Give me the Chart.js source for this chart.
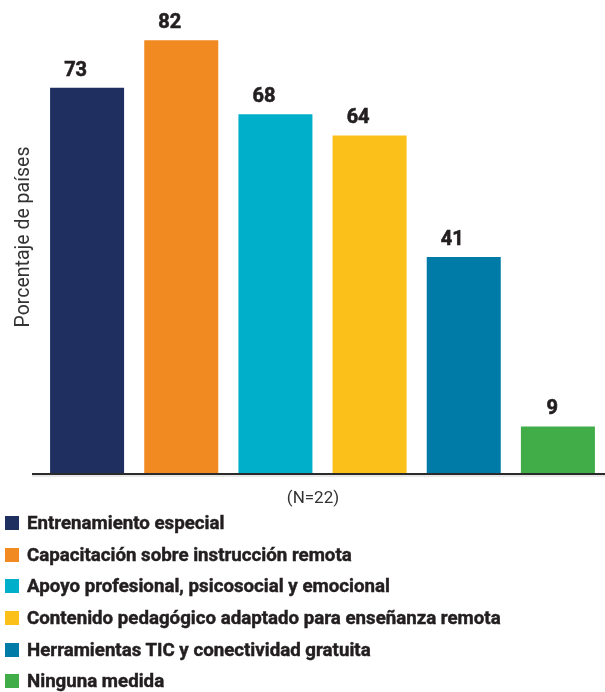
<!DOCTYPE html>
<html lang="es">
<head>
<meta charset="utf-8">
<script src="https://cdn.jsdelivr.net/npm/chart.js@4.4.1/dist/chart.umd.min.js"></script>
<style>
  html, body { margin: 0; padding: 0; background: #fff; }
  #wrap { position: relative; width: 605px; height: 692px; }
  #chart { position: absolute; left: 0; top: 0; }
  #legend { position: absolute; left: 5px; top: 507px; font-family: Roboto, sans-serif; font-weight: bold; font-size: 18.7px; color: #231f20; -webkit-text-stroke: 0.45px #231f20; }
  .row { display: flex; align-items: center; height: 31.7px; white-space: nowrap; }
  .sw { width: 14px; height: 14px; margin-right: 8px; flex: none; -webkit-text-stroke: 0; }
</style>
</head>
<body>
<div id="wrap">
  <canvas id="chart" width="605" height="510"></canvas>
  <div id="legend"></div>
</div>
<script>
// Medidas adoptadas por los países (% de países, N=22)
const categories = [
  "Entrenamiento especial",
  "Capacitación sobre instrucción remota",
  "Apoyo profesional, psicosocial y emocional",
  "Contenido pedagógico adaptado para enseñanza remota",
  "Herramientas TIC y conectividad gratuita",
  "Ninguna medida"
];
const values = [73, 82, 68, 64, 41, 9];
const colors = ["#1f3060", "#f08a21", "#00b0ca", "#fbc01a", "#007ba7", "#41ad49"];
const yTitle = "Porcentaje de países";
const xTitle = "(N=22)";

const textColor = "#231f20";

// Etiquetas con el valor encima de cada barra
const valueLabels = {
  id: "valueLabels",
  afterDatasetsDraw(chart) {
    const ctx = chart.ctx;
    const meta = chart.getDatasetMeta(0);
    ctx.save();
    ctx.font = "bold 20px Roboto, sans-serif";
    ctx.fillStyle = textColor;
    ctx.strokeStyle = textColor;
    ctx.lineWidth = 0.6;
    ctx.textAlign = "right";
    ctx.textBaseline = "alphabetic";
    meta.data.forEach((bar, i) => {
      const t = String(chart.data.datasets[0].data[i]);
      ctx.fillText(t, bar.x, bar.y - 12);
      ctx.strokeText(t, bar.x, bar.y - 12);
    });
    ctx.restore();
  }
};

// Línea base y nota de la muestra bajo el eje
const baseline = {
  id: "baseline",
  afterDraw(chart) {
    const ctx = chart.ctx;
    const y = chart.scales.y.getPixelForValue(0);
    ctx.save();
    ctx.strokeStyle = "rgba(0,0,0,0.18)";
    ctx.lineWidth = 1;
    ctx.beginPath();
    ctx.moveTo(32, y + 2);
    ctx.lineTo(chart.chartArea.right, y + 2);
    ctx.stroke();
    ctx.strokeStyle = "#2b2b2b";
    ctx.lineWidth = 2;
    ctx.beginPath();
    ctx.moveTo(32, y);
    ctx.lineTo(chart.chartArea.right, y);
    ctx.stroke();
    ctx.font = "17px Roboto, sans-serif";
    ctx.fillStyle = "#333333";
    ctx.textAlign = "center";
    ctx.textBaseline = "middle";
    ctx.fillText(xTitle, 313, y + 25);
    ctx.restore();
  }
};

const chart = new Chart(document.getElementById("chart"), {
  type: "bar",
  data: {
    labels: categories,
    datasets: [{
      data: values,
      backgroundColor: colors,
      borderWidth: 0,
      categoryPercentage: 1,
      barPercentage: 0.786
    }]
  },
  options: {
    responsive: false,
    animation: false,
    layout: { padding: 0 },
    plugins: {
      legend: { display: false },
      tooltip: { enabled: false }
    },
    scales: {
      x: {
        ticks: { display: false },
        grid: { display: false },
        border: { display: false },
        afterFit(scale) { scale.height = 36; }
      },
      y: {
        min: 0,
        max: 89.6,
        ticks: { display: false },
        grid: { display: false },
        border: { display: false },
        title: {
          display: true,
          text: yTitle,
          color: "#333333",
          font: { family: "Roboto, sans-serif", size: 19.5 },
          padding: { top: 12, bottom: 0 }
        },
        afterFit(scale) { scale.width = 40; }
      }
    }
  },
  plugins: [valueLabels, baseline]
});

// Leyenda construida a partir de los datos del gráfico
const legend = document.getElementById("legend");
chart.data.labels.forEach((label, i) => {
  const row = document.createElement("div");
  row.className = "row";
  const sw = document.createElement("span");
  sw.className = "sw";
  sw.style.background = chart.data.datasets[0].backgroundColor[i];
  const txt = document.createElement("span");
  txt.textContent = label;
  row.appendChild(sw);
  row.appendChild(txt);
  legend.appendChild(row);
});
</script>
</body>
</html>
